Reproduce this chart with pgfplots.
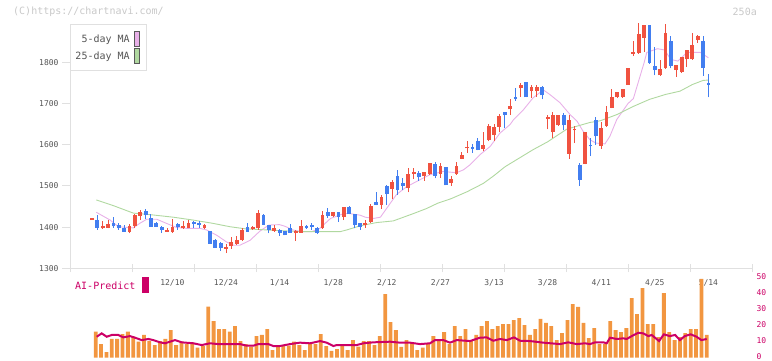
\documentclass[border=0pt]{standalone}
\usepackage{fontspec}
\setmainfont{DejaVu Sans Mono}
\setmonofont{DejaVu Sans Mono}
\usepackage{pgfplots}
\usepackage{pgfplotstable}
\pgfplotsset{compat=1.18}

\definecolor{cred}{RGB}{240,82,64}
\definecolor{cblue}{RGB}{66,126,240}
\definecolor{maA}{RGB}{232,176,232}
\definecolor{maB}{RGB}{176,216,160}
\definecolor{vorange}{RGB}{242,150,64}
\definecolor{aimag}{RGB}{204,0,102}
\definecolor{axisgray}{RGB}{224,224,224}
\definecolor{textgray}{RGB}{85,85,85}
\definecolor{lightgray}{RGB}{200,200,200}

\pgfplotstableread{
i o h l c
0 1418 1420 1418 1420
2 1397 1415 1396 1402
3 1398 1417 1397 1407
7 1389 1407 1385 1402
8 1402 1433 1397 1429
9 1427 1441 1418 1437
14 1389 1399 1388 1394
15 1389 1419 1386 1401
17 1397 1415 1396 1402
18 1397 1417 1397 1411
21 1398 1407 1396 1405
25 1349 1360 1337 1351
26 1354 1376 1348 1364
27 1359 1378 1357 1368
28 1368 1397 1366 1393
30 1396 1402 1393 1400
31 1397 1441 1393 1435
34 1391 1405 1389 1399
38 1386 1394 1367 1389
39 1386 1417 1386 1402
43 1397 1439 1396 1429
45 1427 1437 1425 1436
47 1425 1448 1417 1448
51 1405 1417 1399 1409
52 1413 1455 1409 1451
54 1454 1478 1444 1474
56 1492 1515 1468 1510
59 1496 1543 1484 1529
60 1529 1543 1517 1534
62 1523 1534 1512 1534
63 1528 1555 1527 1555
65 1528 1555 1520 1549
67 1508 1524 1500 1517
68 1528 1559 1527 1549
69 1566 1582 1565 1576
70 1592 1609 1581 1594
73 1590 1631 1584 1600
74 1612 1650 1608 1646
75 1624 1650 1608 1643
76 1643 1674 1630 1669
78 1686 1710 1673 1693
80 1737 1749 1716 1746
82 1730 1744 1714 1741
83 1730 1744 1716 1741
85 1664 1673 1637 1666
86 1630 1680 1616 1671
87 1647 1671 1646 1671
89 1578 1671 1566 1659
90 1636 1646 1604 1638
92 1554 1632 1552 1632
95 1598 1654 1590 1641
96 1646 1693 1644 1679
97 1689 1736 1688 1715
98 1715 1728 1713 1728
99 1715 1736 1714 1736
100 1746 1785 1745 1785
101 1821 1852 1815 1825
102 1822 1895 1821 1869
103 1859 1890 1825 1890
106 1768 1805 1767 1783
107 1785 1893 1784 1871
109 1781 1793 1765 1793
110 1776 1812 1775 1812
111 1807 1830 1789 1830
112 1807 1871 1806 1841
113 1855 1867 1848 1863
}\up

\pgfplotstableread{
i o h l c
1 1417 1429 1393 1399
4 1411 1424 1398 1402
5 1405 1409 1393 1397
6 1399 1405 1389 1389
10 1440 1444 1419 1429
11 1423 1432 1401 1401
12 1411 1413 1401 1401
13 1401 1402 1386 1393
16 1407 1409 1394 1401
19 1413 1414 1397 1407
20 1411 1415 1398 1405
22 1391 1391 1360 1360
23 1368 1371 1350 1350
24 1362 1364 1342 1350
29 1401 1409 1389 1389
32 1429 1431 1405 1406
33 1406 1406 1385 1393
35 1393 1395 1379 1386
36 1390 1391 1380 1380
37 1399 1407 1386 1386
40 1402 1404 1396 1397
41 1405 1409 1394 1401
42 1399 1400 1383 1386
44 1436 1446 1423 1427
46 1436 1437 1413 1425
48 1448 1451 1431 1431
49 1431 1432 1397 1405
50 1409 1410 1394 1401
53 1461 1485 1453 1454
55 1500 1502 1454 1480
57 1524 1539 1478 1489
58 1506 1519 1490 1500
61 1531 1537 1512 1521
64 1553 1559 1518 1524
66 1546 1547 1501 1501
71 1593 1602 1580 1591
72 1610 1617 1586 1588
77 1680 1680 1640 1672
79 1715 1737 1707 1711
81 1751 1752 1715 1715
84 1741 1742 1710 1720
88 1671 1676 1635 1647
91 1551 1555 1500 1515
93 1599 1616 1572 1597
94 1661 1667 1600 1620
104 1890 1890 1796 1798
105 1791 1836 1768 1781
108 1851 1863 1785 1791
114 1851 1863 1767 1787
115 1749 1771 1715 1745
}\down

\pgfplotstableread{
x y
0.8 1436
3.4 1417
4.9 1401
7.7 1398
8.9 1409
10.2 1419
12.1 1419
13.9 1409
15.8 1399
17.7 1397
20.1 1397
21.4 1393
23.3 1380
25.1 1364
26.4 1356
27.6 1356
29.5 1368
31.3 1390
33 1405
35 1406
36 1402
37.5 1393
39 1389
41 1389
42.5 1397
44.5 1421
47 1433
48 1433
50 1429
51 1424
52.5 1421
53.8 1424
55 1446
56.8 1479
58.7 1498
60.6 1511
63 1527
65.5 1535
68 1532
69.3 1539
70.5 1551
72.4 1576
74.3 1596
76.1 1628
78 1649
78.6 1660
80.5 1685
82.3 1714
84.2 1733
85.4 1722
87.3 1702
89.2 1673
90.5 1657
91.6 1633
92.9 1612
94 1604
95.7 1602
96.6 1620
97.9 1661
100 1700
101 1712
103 1799
103.5 1824
105.5 1833
106.8 1830
108 1807
109.3 1803
111 1824
113.5 1824
115 1811
}\maFive

\pgfplotstableread{
x y
0.8 1466
4 1452
7.7 1434
11 1430
15.2 1424
18.9 1417
22.6 1409
25.7 1401
28.5 1396
31.3 1394
35.7 1391
39.4 1389
46.3 1389
47.5 1393
50 1403
53.1 1411
56.2 1415
58.1 1424
60 1433
62.4 1445
64.5 1458
67 1469
70 1486
73 1506
75 1525
77 1546
78 1554
82.3 1588
85 1607
88.6 1638
92.9 1654
94.8 1658
97.9 1673
101 1693
104 1710
107 1722
109.7 1730
112 1746
114 1756
115 1757
}\maTwentyFive

\pgfplotstableread{
k v
1 16.3
2 8.5
3 3.5
4 11.7
5 11.7
6 14.8
7 16.3
8 13.1
9 10
10 14.2
11 10.4
12 7.9
13 10.4
14 11.7
15 17.3
16 7.9
17 10
18 8.5
19 9.6
20 6.3
21 7.3
22 31.9
23 22.9
24 17.9
25 17.9
26 16.3
27 19.8
28 10.4
29 8.5
30 6.9
31 13.5
32 14.2
33 17.9
34 4.8
35 6.9
36 7.9
37 7.5
38 10
39 7.9
40 4.8
41 8.5
42 8.5
43 14.8
44 7.3
45 4.2
46 5.4
47 7.3
48 4.8
49 11.0
50 6.9
51 10.4
52 10.4
53 7.9
54 13.5
55 39.8
56 22.3
57 17.3
58 6.7
59 11.0
60 9.6
61 4.8
62 6.3
63 8.5
64 13.5
65 10.4
66 16.0
67 8.5
68 19.8
69 13.5
70 17.9
71 10.4
72 14.2
73 19.8
74 22.9
75 17.9
76 19.8
77 21.0
78 21.0
79 23.5
80 24.8
81 20.4
82 14.2
83 17.9
84 24.2
85 21.7
86 19.8
87 11.0
88 15.4
89 23.5
90 33.5
91 31.7
92 21.7
93 12.3
94 18.5
95 8.5
96 8.5
97 22.9
98 17.3
99 16.0
100 18.5
101 37.3
102 27.3
103 43.5
104 21.0
105 21.0
106 12.9
107 40.4
108 16.0
109 11.0
110 12.9
111 15.4
112 17.9
113 17.9
114 49.2
115 14.2
}\vol

\pgfplotstableread{
k v
1.19 13.1
2.12 15.2
3.05 13.1
3.99 14.2
5.22 14.2
6.15 12.7
7.40 13.5
8.33 12.5
9.58 11.0
10.81 11.7
11.75 11.0
13.0 9.6
13.93 9.0
14.86 10
15.79 11
17.04 9.6
19.21 9.0
20.78 7.9
22.32 9.0
23.87 8.5
27.92 8.5
29.17 7.5
30.40 7.5
31.34 8.5
33.2 8.5
34.13 7.3
35.38 7.3
37.25 8.5
39.11 9.4
41.0 9.0
42.86 10.4
44.1 9.4
45.33 7.3
45.96 7.9
49.69 7.9
50.93 9.0
52.79 9.6
55.91 10
57.77 9.4
59.64 9.4
61.51 8.5
63.37 9.0
64.3 11
65.85 11
67.1 9.4
68.35 11
70.83 10.4
72.7 12.5
73.95 12.7
75.18 10.6
76.43 11.7
77.68 11
79.04 12.7
80.16 10.6
82.03 10.4
84.5 9.4
87.62 8.5
89.17 9.6
90.74 8.5
92.29 9.0
93.22 8.5
94.16 9.6
95.7 9.6
96.34 9.0
96.96 12.5
98.2 11.7
99.43 12.1
100.07 11.7
101.0 13.5
102.23 15.6
103.16 15.2
104.1 13.5
104.73 14.2
106.1 10.4
107.0 14.6
108.1 13.5
109.1 14.2
110.0 11
110.9 13.5
112.0 14.6
113.1 13.1
114.0 11
114.99 11.7
}\ai

\begin{document}
\begin{tikzpicture}[x=1pt,y=1pt]
% header texts
\node[anchor=west, inner sep=0pt, text=lightgray, font=\fontsize{10}{12}\selectfont] at (13,349) {(C)https://chartnavi.com/};
\node[anchor=east, inner sep=0pt, text=lightgray, font=\fontsize{10}{12}\selectfont] at (757,349) {250a};

\begin{axis}[
  at={(70pt,92.7pt)}, anchor=south west, scale only axis,
  width=682pt, height=244.3pt,
  xmin=-4.104, xmax=123.13, ymin=1300, ymax=1893,
  clip=false,
  axis x line*=bottom, axis y line*=left,
  axis line style={draw=axisgray, line width=1pt},
  xtick={-4.104,7.463,19.03,30.597,42.164,53.731,65.298,76.865,88.432,99.999,111.566,123.13},
  xticklabels={},
  xtick align=center,
  ytick={1300,1400,1500,1600,1700,1800},
  ytick align=outside,
  major tick length=8pt,
  tick style={draw=axisgray, line width=1pt},
  yticklabel style={font=\fontsize{8}{9}\selectfont, text=textgray},
  /pgf/number format/assume math mode=true,
  /pgf/number format/1000 sep={},
  extra x ticks={15,25,35,45,55,65,75,85,95,105,115},
  extra x tick labels={12/10,12/24,1/14,1/28,2/12,2/27,3/13,3/28,4/11,4/25,5/14},
  extra x tick style={major tick length=0pt, xticklabel style={font=\fontsize{8}{9}\selectfont, text=textgray, anchor=center, yshift=-15pt}},
  legend plot pos=right,
  legend cell align=right,
  legend style={at={(0,1)}, anchor=north west, draw=axisgray, line width=1pt, fill=white,
    font=\fontsize{10}{12}\selectfont, text=textgray, inner xsep=3pt, inner ysep=6pt, row sep=0pt},
]
\addplot[maA, line width=0.9pt, legend image code/.code={\path[draw=none, fill=none] (-3.2pt,-8.5pt) rectangle (9pt,8.5pt); \draw[draw=black!65, line width=0.8pt, fill=maA] (0pt,-7.8pt) rectangle (5pt,7.8pt);}] table[x=x,y=y]{\maFive};
\addlegendentry{5-day MA}
\addplot[maB, line width=0.9pt, legend image code/.code={\path[draw=none, fill=none] (-3.2pt,-8.5pt) rectangle (9pt,8.5pt); \draw[draw=black!65, line width=0.8pt, fill=maB] (0pt,-7.8pt) rectangle (5pt,7.8pt);}] table[x=x,y=y]{\maTwentyFive};
\addlegendentry{25-day MA}

% wicks
\addplot[forget plot, draw=none, mark=none, error bars/.cd, y dir=plus, y explicit, error mark=none, error bar style={draw=cred, line width=1pt}]
  table[x=i, y=l, y error plus expr={\thisrow{h}-\thisrow{l}}]{\up};
\addplot[forget plot, draw=none, mark=none, error bars/.cd, y dir=plus, y explicit, error mark=none, error bar style={draw=cblue, line width=1pt}]
  table[x=i, y=l, y error plus expr={\thisrow{h}-\thisrow{l}}]{\down};
% bodies
\addplot[forget plot, draw=none, mark=none, error bars/.cd, y dir=plus, y explicit, error mark=none, error bar style={draw=cred, line width=3.8pt}]
  table[x=i, y expr={(\thisrow{o}+\thisrow{c})/2-max(abs(\thisrow{o}-\thisrow{c}),4)/2}, y error plus expr={max(abs(\thisrow{o}-\thisrow{c}),4)}]{\up};
\addplot[forget plot, draw=none, mark=none, error bars/.cd, y dir=plus, y explicit, error mark=none, error bar style={draw=cblue, line width=3.8pt}]
  table[x=i, y expr={(\thisrow{o}+\thisrow{c})/2-max(abs(\thisrow{o}-\thisrow{c}),4)/2}, y error plus expr={max(abs(\thisrow{o}-\thisrow{c}),4)}]{\down};
\end{axis}

% AI-Predict label
\node[anchor=west, inner sep=0pt, text=aimag, font=\fontsize{10}{12}\selectfont] at (75,75.3) {AI-Predict};
\fill[aimag] (141.7,68.3) rectangle (149,84.3);

\begin{axis}[
  at={(70pt,3.3pt)}, anchor=south west, scale only axis,
  width=682pt, height=86pt,
  xmin=-3.795, xmax=123.44, ymin=0, ymax=53.75,
  hide x axis,
  axis y line*=right, axis line style={draw=none},
  ytick={0,10,20,30,40,50}, major tick length=0pt,
  yticklabel style={font=\fontsize{8}{9}\selectfont, text=aimag, anchor=west, xshift=1pt, yshift=0.8pt},
  /pgf/number format/assume math mode=true,
]
\addplot[ybar, bar width=3.8pt, fill=vorange, draw=none] table[x=k,y=v]{\vol};
\addplot[aimag, line width=2pt] table[x=k,y=v]{\ai};
\end{axis}

\pgfresetboundingbox
\path[use as bounding box] (0,0) rectangle (772,361);
\end{tikzpicture}
\end{document}
